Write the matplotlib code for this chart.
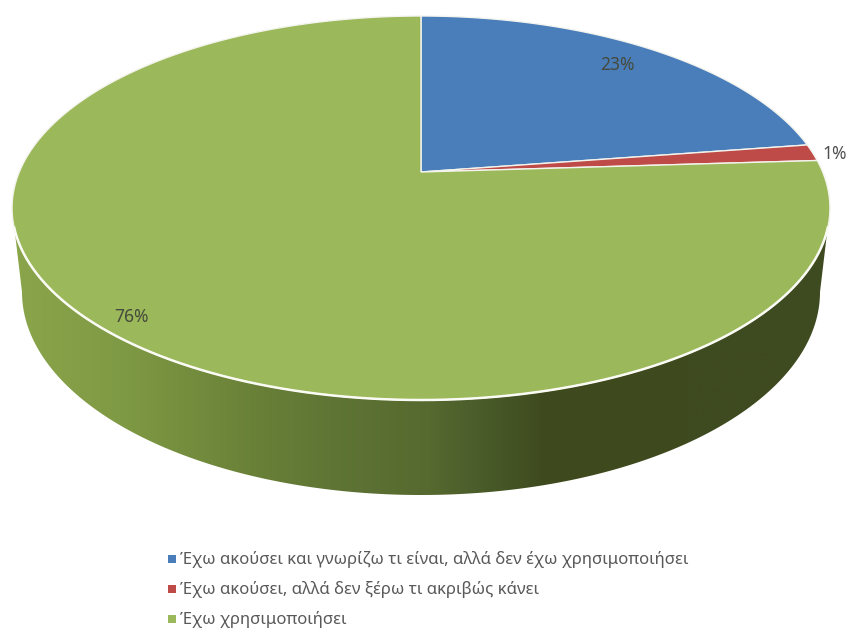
import numpy as np
import matplotlib
matplotlib.use('Agg')
from matplotlib import pyplot as plt
from matplotlib.patches import Polygon

# Chart data
categories = ['Έχω ακούσει και γνωρίζω τι είναι, αλλά δεν έχω χρησιμοποιήσει',
              'Έχω ακούσει, αλλά δεν ξέρω τι ακριβώς κάνει',
              'Έχω χρησιμοποιήσει']
values = [22.6, 1.4, 76]
value_labels = ['23%', '1%', '76%']
colors = ['#4a7ebb', '#be4b48', '#9bb85a']

# Pie geometry in image pixels (perspective view of a round disc)
apex_x, apex_y = 421, 172
tilt = 0.1875
scale_x, scale_y = 401.7, 185.25


def disc(theta):
    # theta clockwise from 12 o'clock, in radians
    px = np.sin(theta)
    py = np.cos(theta)
    w = 1 + tilt * py
    return apex_x + scale_x * px / w, apex_y - scale_y * py / w


fig = plt.figure(figsize=(8.5, 6.28), dpi=100)
ax = fig.add_axes([0, 0, 1, 1])
ax.set_xlim(0, 850)
ax.set_ylim(628, 0)
ax.axis('off')

# Side wall with a left to right gradient
t = np.linspace(0, 2 * np.pi, 721)
top_x, top_y = disc(t)
front = top_y > 208
order = np.argsort(top_x[front])
front_x = top_x[front][order]
front_y = top_y[front][order]
low_x = 421 + 399 * np.cos(np.linspace(np.pi, 0, 300))
low_y = 292 + 203 * np.sin(np.linspace(np.pi, 0, 300))
wall_x = np.r_[12, front_x, 830, low_x[::-1]]
wall_y = np.r_[208, front_y, 208, low_y[::-1]]
wall = Polygon(np.c_[wall_x, wall_y], closed=True, fc='none', ec='none')
ax.add_patch(wall)

stops_x = [12, 120, 250, 330, 430, 480, 545, 830]
stops_c = np.array([[0x8a, 0xa5, 0x4a], [0x7f, 0x9a, 0x44], [0x6a, 0x81, 0x38],
                    [0x5f, 0x75, 0x35], [0x56, 0x69, 0x2f], [0x4a, 0x5c, 0x2a],
                    [0x3e, 0x4a, 0x1e], [0x3f, 0x4a, 0x20]]) / 255
xs = np.arange(12, 831)
grad = np.stack([np.interp(xs, stops_x, stops_c[:, i]) for i in range(3)], axis=-1)[None, :, :]
img = ax.imshow(grad, extent=(12, 830, 500, 200), aspect='auto', zorder=1)
img.set_clip_path(wall)
ax.set_xlim(0, 850)
ax.set_ylim(628, 0)

# Top of the pie, one polygon per slice
edges = np.cumsum([0] + values) / sum(values) * 2 * np.pi
for i, color in enumerate(colors):
    th = np.linspace(edges[i], edges[i + 1], 300)
    x, y = disc(th)
    ax.add_patch(Polygon(np.c_[np.r_[apex_x, x], np.r_[apex_y, y]], closed=True,
                         fc=color, ec='#f4f4ee', lw=1.0, zorder=2))

# Brighter rim along the front of the disc
rim = (front_x > 14) & (front_x < 828)
ax.plot(front_x[rim], front_y[rim], color='#fbfbf5', lw=1.8, zorder=2.5)

font = ['Noto Sans', 'DejaVu Sans']
ax.text(617, 65, value_labels[0], color='#454a3c', fontsize=12.5, family=font, ha='center', va='center', zorder=3)
ax.text(835, 154, value_labels[1], color='#505050', fontsize=12.5, family=font, ha='center', va='center', zorder=3)
ax.text(132, 317, value_labels[2], color='#454a3c', fontsize=12.5, family=font, ha='center', va='center', zorder=3)

# Legend
legend_y = [559, 589, 619]
for label, color, ly in zip(categories, colors, legend_y):
    ax.scatter([172], [ly], marker='s', s=28, color=color, linewidths=0, zorder=3)
    ax.text(180, ly, label, color='#595959', fontsize=12.05, family=font, ha='left', va='center', zorder=3)

fig.savefig('out.png', dpi=100)
